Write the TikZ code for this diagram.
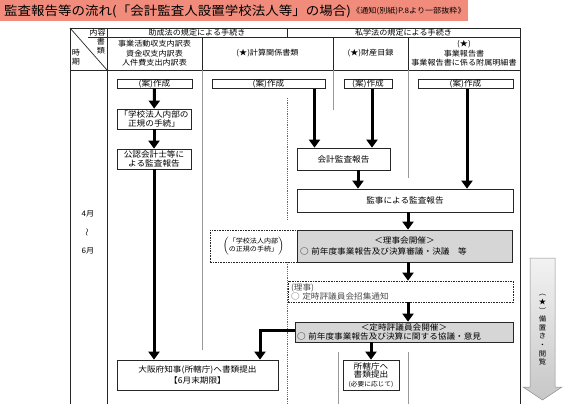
\documentclass[tikz,border=0pt]{standalone}
\usepackage{fontspec}
\setmainfont[FakeStretch=1.08]{Noto Sans CJK JP}
\usepackage{graphicx}
\usetikzlibrary{arrows.meta, positioning, calc}
\definecolor{titlered}{RGB}{241,140,124}

\begin{document}
\begin{tikzpicture}[
    x=1pt, y=-1pt,
    box/.style={rectangle, draw=black!85, line width=0.7pt, fill=white, align=center, inner sep=0pt, font=\fontsize{8}{9}\selectfont},
    graybox/.style={box, fill=black!16},
    dashbox/.style={box, dash pattern=on 1.6pt off 1pt},
    head/.style={align=center, inner sep=0pt, font=\fontsize{7.5}{9.5}\selectfont},
    rule/.style={black!85, line width=0.7pt},
    thinrule/.style={black!40, line width=0.5pt},
    dashrule/.style={black!60, line width=0.6pt, dash pattern=on 1.2pt off 1pt},
    arrow/.style={line width=3pt, -{Triangle[width=11pt,length=8pt]}}
]
\useasboundingbox (0,0) rectangle (567,404);

% Title
\fill[titlered] (0,0) rectangle (468,21);
\node[anchor=west, inner sep=0pt, font=\fontsize{12.5}{13}\selectfont] (title) at (4,11) {監査報告等の流れ(「会計監査人設置学校法人等」の場合)};
\node[right=1pt of title, inner sep=0pt, font=\fontsize{7.5}{8}\selectfont] (source) {《通知(別紙)P.8より一部抜粋》};

% Table frame
\draw[rule] (70,28) -- (520,28);
\draw[rule] (70,28) -- (70,404);
\draw[rule] (520,28) -- (520,404);
\draw[rule] (107,28) -- (107,404);
\draw[rule] (88,37.5) -- (520,37.5);
\draw[rule] (287,28) -- (287,37.5);
\draw[rule] (70,70) -- (520,70);
\draw[rule] (70,28) -- (107,70);
\draw[rule] (202,37.5) -- (202,70);
\draw[rule] (333,37.5) -- (333,70);
\draw[rule] (408,37.5) -- (408,70);

% Column rules in the body
\draw[thinrule] (202,70) -- (202,350);
\draw[thinrule] (333,70) -- (333,110);
\draw[thinrule] (408,70) -- (408,178);
\draw[thinrule] (338,352) -- (338,404);
\draw[thinrule] (408,352) -- (408,404);
\draw[dashrule] (287,98) -- (287,221);
\draw[dashrule] (287,262) -- (287,404);

% Headers
\node[head] (naiyo) at (97.5,32.8) {内容};
\node[head] (shorui) at (101,46) {書\\類};
\node[head] (jiki) at (76,57) {時\\期};
\node[head] (josei_h) at (197,32.8) {助成法の規定による手続き};
\node[head] (shigaku_h) at (403.5,32.8) {私学法の規定による手続き};
\node[head] (uchiwake_h) at (154.5,53.5) {事業活動収支内訳表\\資金収支内訳表\\人件費支出内訳表};
\node[head] (keisan_h) at (267.5,53.5) {(★)計算関係書類};
\node[head] (zaisan_h) at (370.5,53.5) {(★)財産目録};
\node[head] (jigyo_h) at (464,53.5) {(★)\\事業報告書\\事業報告書に係る附属明細書};

% Period
\node[head, font=\fontsize{7.5}{8}\selectfont] (m4) at (88,214) {4月};
\node[head, rotate=90, font=\fontsize{7.5}{8}\selectfont] (wave) at (88,232) {～};
\node[head, font=\fontsize{7.5}{8}\selectfont] (m6) at (88,251) {6月};

% Draft boxes
\node[box, minimum width=75pt, minimum height=8.5pt] (an_josei) at (154.5,84) {(案)作成};
\node[box, minimum width=113pt, minimum height=8.5pt] (an_keisan) at (268.5,84) {(案)作成};
\node[box, minimum width=48pt, minimum height=8.5pt] (an_zaisan) at (368,84) {(案)作成};
\node[box, minimum width=95pt, minimum height=8.5pt] (an_jigyo) at (465.5,84) {(案)作成};

% Josei-ho procedure
\node[box, minimum width=74pt, minimum height=20pt] (naibu1) at (154,119) {「学校法人内部の\\正規の手続」};
\node[box, minimum width=74pt, minimum height=20pt] (kaikeishi) at (154,159) {公認会計士等に\\よる監査報告};
\node[box, minimum width=161pt, minimum height=30pt, font=\fontsize{8}{10.5}\selectfont] (osaka) at (197.5,375) {大阪府知事(所轄庁)へ書類提出\\【6月末期限】};

% Shigaku-ho procedure
\node[box, minimum width=93pt, minimum height=22pt] (kansa) at (343.5,159) {会計監査報告};
\node[box, minimum width=216pt, minimum height=23pt] (kanji) at (405,200.5) {監事による監査報告};
\node[dashbox, minimum width=87pt, minimum height=32pt, font=\fontsize{6.5}{7.5}\selectfont] (naibu2) at (253.5,246) {$\left(\begin{tabular}{@{}c@{}}「学校法人内部\\の正規の手続」\end{tabular}\right)$};
\node[graybox, minimum width=215pt, minimum height=32pt, text width=209pt, align=left, font=\fontsize{8}{11}\selectfont] (rijikai) at (404.5,246) {\makebox[\linewidth]{＜理事会開催＞}\\○ 前年度事業報告及び決算審議・決議　等};
\node[dashbox, minimum width=225pt, minimum height=21pt, text width=219pt, align=left, text=black!70, font=\fontsize{8}{9}\selectfont] (riji) at (400.5,291.5) {(理事)\\○ 定時評議員会招集通知};
\node[graybox, minimum width=218pt, minimum height=20pt, text width=214pt, align=left, font=\fontsize{8}{9.5}\selectfont] (hyogiin) at (404,332) {\makebox[\linewidth]{＜定時評議員会開催＞}\\○ 前年度事業報告及び決算に関する協議・意見};
\node[box, minimum width=56pt, minimum height=30pt, font=\fontsize{8}{8.6}\selectfont] (shokatsu) at (371,375) {所轄庁へ\\書類提出\\{\fontsize{6.2}{7}\selectfont (必要に応じて)}};

% Connections
\draw[arrow] (an_josei) -- (naibu1);
\draw[arrow] (naibu1) -- (kaikeishi);
\draw[arrow] (kaikeishi.south) -- (kaikeishi.south |- osaka.north);
\draw[arrow] ([xshift=46pt]an_keisan.south) -- ([xshift=46pt]an_keisan.south |- kansa.north);
\draw[arrow] ([xshift=4pt]an_zaisan.south) -- ([xshift=4pt]an_zaisan.south |- kansa.north);
\draw[arrow] ([xshift=1.5pt]an_jigyo.south) -- ([xshift=1.5pt]an_jigyo.south |- kanji.north);
\draw[arrow] ([xshift=14.5pt]kansa.south) -- ([xshift=14.5pt]kansa.south |- kanji.north);
\draw[arrow] ([xshift=3pt]kanji.south) -- ([xshift=3pt]kanji.south |- rijikai.north);
\draw[arrow] ([xshift=3.5pt]rijikai.south) -- ([xshift=3.5pt]rijikai.south |- riji.north);
\draw[arrow] ([xshift=7.5pt]riji.south) -- ([xshift=7.5pt]riji.south |- hyogiin.north);
\draw[arrow] (shokatsu.north |- hyogiin.south) -- (shokatsu.north);
\draw[arrow] ([yshift=2pt]hyogiin.west) -| ([xshift=62.5pt]osaka.north);

% Keeping and inspection
\shade[top color=black!5, bottom color=black!22, draw=black!45, line width=0.5pt]
  (530,258) -- (555,258) -- (555,387) -- (562,387) -- (542.5,400) -- (523,387) -- (530,387) -- cycle;
\node[head, font=\fontsize{6.8}{8.6}\selectfont] (bichi) at (542.5,330) {︵\\★\\︶\\備\\置\\き\\・\\閲\\覧};

\end{tikzpicture}
\end{document}
